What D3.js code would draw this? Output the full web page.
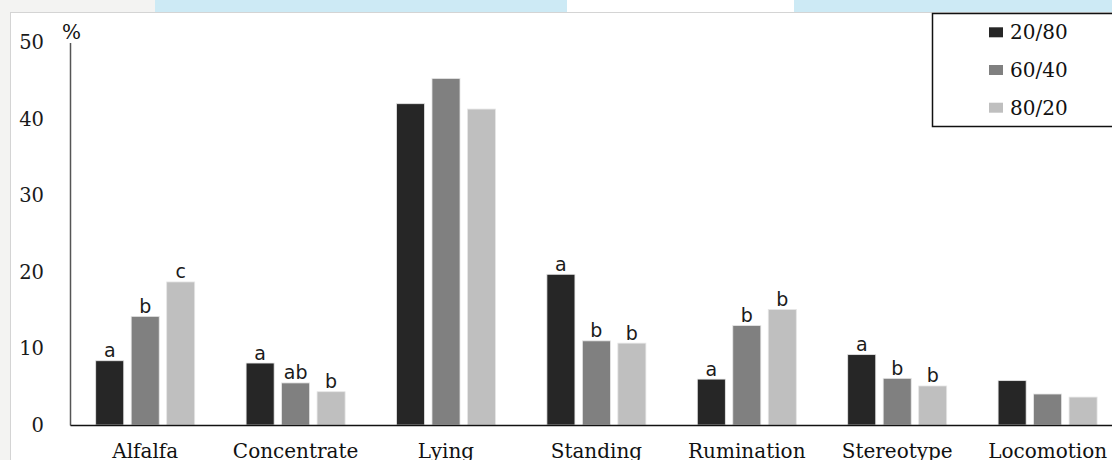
<!DOCTYPE html>
<html>
<head>
<meta charset="utf-8">
<script src="https://cdn.jsdelivr.net/npm/d3@7"></script>
<style>
  html, body { margin: 0; padding: 0; background: #fff; overflow: hidden; }
  svg { display: block; }
</style>
</head>
<body>
<svg id="chart" width="1112" height="460"></svg>
<script>
// Behaviour categories and time-budget shares (%) per forage/concentrate ratio
const categories = ["Alfalfa", "Concentrate", "Lying", "Standing", "Rumination", "Stereotype", "Locomotion"];
const seriesNames = ["20/80", "60/40", "80/20"];
const values2080 = [8.4, 8.1, 42.0, 19.7, 6.0, 9.2, 5.8];
const values6040 = [14.2, 5.5, 45.3, 11.0, 13.0, 6.1, 4.05];
const values8020 = [18.7, 4.35, 41.3, 10.7, 15.1, 5.1, 3.65];
const letters2080 = ["a", "a", "", "a", "a", "a", ""];
const letters6040 = ["b", "ab", "", "b", "b", "b", ""];
const letters8020 = ["c", "b", "", "b", "b", "b", ""];
const yTicks = [0, 10, 20, 30, 40, 50];
const colors = ["#262626", "#808080", "#bfbfbf"];

const series = [
  { name: seriesNames[0], values: values2080, letters: letters2080 },
  { name: seriesNames[1], values: values6040, letters: letters6040 },
  { name: seriesNames[2], values: values8020, letters: letters8020 }
];

const svg = d3.select("#chart");
const serif = "'DejaVu Serif', 'Liberation Serif', serif";
const sans = "'DejaVu Sans', 'Liberation Sans', sans-serif";

// page backdrop around the chart panel
svg.append("rect").attr("x", 0).attr("y", 0).attr("width", 1112).attr("height", 460).attr("fill", "#f3f3f2");
svg.append("rect").attr("x", 155).attr("y", 0).attr("width", 957).attr("height", 13).attr("fill", "#cdeaf5");
svg.append("rect").attr("x", 567).attr("y", 0).attr("width", 227).attr("height", 13).attr("fill", "#ffffff");
svg.append("rect").attr("x", 10.5).attr("y", 12.5).attr("width", 1120).attr("height", 460)
  .attr("fill", "#ffffff").attr("stroke", "#d4d4d4").attr("stroke-width", 1);

const plotLeft = 70, plotBottom = 425, plotTop = 42.5;
const x0 = d3.scaleBand().domain(categories).range([plotLeft, plotLeft + 7 * 150.4]).paddingInner(0).paddingOuter(0);
const x1 = d3.scaleBand().domain(seriesNames).range([-49.5, 49.5]).paddingInner(0.21).paddingOuter(0);
const y = d3.scaleLinear().domain([0, 50]).range([plotBottom, plotTop]);

// bars
const groups = svg.append("g").selectAll("g")
  .data(categories)
  .join("g")
  .attr("transform", d => `translate(${x0(d) + x0.bandwidth() / 2},0)`);

series.forEach((s, si) => {
  groups.append("rect")
    .attr("x", x1(s.name))
    .attr("width", x1.bandwidth())
    .attr("y", (d, i) => y(s.values[i]))
    .attr("height", (d, i) => y(0) - y(s.values[i]))
    .attr("fill", colors[si])
    .attr("stroke", "#e6e6e6")
    .attr("stroke-width", 0.8);

  groups.append("text")
    .attr("x", x1(s.name) + x1.bandwidth() / 2)
    .attr("y", (d, i) => y(s.values[i]) - 3.5)
    .attr("text-anchor", "middle")
    .attr("font-family", sans)
    .attr("font-size", 19)
    .attr("fill", "#1a1a1a")
    .text((d, i) => s.letters[i]);
});

// y axis
const yAxis = d3.axisLeft(y).tickValues(yTicks).tickSize(0).tickPadding(26);
const yg = svg.append("g").attr("transform", `translate(${plotLeft},0)`).call(yAxis);
yg.select(".domain").attr("stroke", "#555").attr("stroke-width", 1.5);
yg.selectAll("text").attr("font-family", serif).attr("font-size", 19.5).attr("fill", "#1a1a1a");

// x axis
const xAxis = d3.axisBottom(x0).tickSize(0);
const xg = svg.append("g").attr("transform", `translate(0,${plotBottom})`).call(xAxis);
xg.select(".domain").attr("stroke", "#111").attr("stroke-width", 1.5);
xg.selectAll("text").attr("font-family", serif).attr("font-size", 20).attr("fill", "#111")
  .attr("y", 33).attr("dy", null);

// unit label
svg.append("text").attr("x", 62).attr("y", 39).attr("font-family", serif).attr("font-size", 20)
  .attr("fill", "#111").text("%");

// legend
const lg = svg.append("g");
lg.append("rect").attr("x", 932.5).attr("y", 13.5).attr("width", 200).attr("height", 113)
  .attr("fill", "#fff").attr("stroke", "#111").attr("stroke-width", 1.5);
series.forEach((s, i) => {
  const cy = 32.3 + i * 37.7;
  lg.append("rect").attr("x", 989).attr("y", cy - 5).attr("width", 14).attr("height", 10).attr("fill", colors[i]);
  lg.append("text").attr("x", 1010).attr("y", cy + 7).attr("font-family", serif).attr("font-size", 20)
    .attr("fill", "#111").text(s.name);
});
</script>
</body>
</html>
